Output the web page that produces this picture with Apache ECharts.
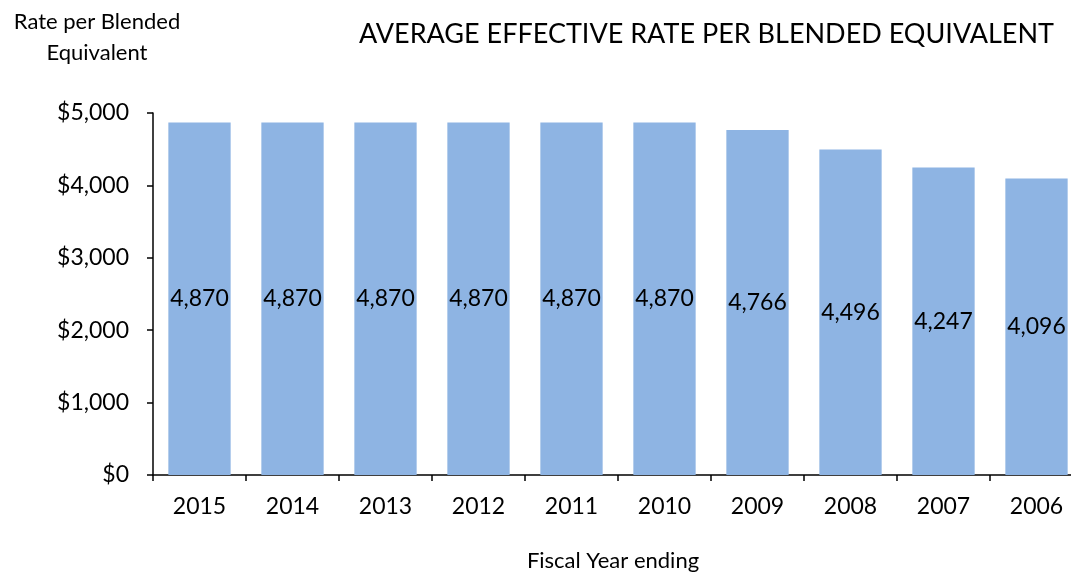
<!DOCTYPE html>
<html>
<head>
<meta charset="utf-8">
<script src="https://cdn.jsdelivr.net/npm/echarts@6/dist/echarts.min.js"></script>
<style>
  html, body { margin: 0; padding: 0; background: #fff; overflow: hidden; }
  /* the chart canvas runs a little past the right edge of the window */
  #chart { width: 1083px; height: 577px; }
</style>
</head>
<body>
<div id="chart"></div>
<script>
// Fiscal years (most recent first) and the average effective rate for each
const years = ['2015', '2014', '2013', '2012', '2011', '2010', '2009', '2008', '2007', '2006'];
const rates = [4870, 4870, 4870, 4870, 4870, 4870, 4766, 4496, 4247, 4096];
const yTicks = [0, 1000, 2000, 3000, 4000, 5000];

const FONT = 'Lato';
const fmt = v => v.toLocaleString('en-US');

const chart = echarts.init(document.getElementById('chart'), null, { renderer: 'canvas' });
chart.setOption({
  animation: false,
  backgroundColor: '#ffffff',
  textStyle: { fontFamily: FONT, color: '#000' },
  title: {
    text: 'AVERAGE EFFECTIVE RATE PER BLENDED EQUIVALENT',
    right: 24,
    top: 16,
    textStyle: { fontFamily: FONT, fontSize: 27, fontWeight: 'normal', color: '#000' }
  },
  graphic: [
    {
      type: 'text',
      x: 97,
      y: 6,
      style: {
        text: 'Rate per Blended\nEquivalent',
        font: '22px ' + FONT,
        fill: '#000',
        lineHeight: 31,
        align: 'center'
      }
    },
    {
      type: 'text',
      x: 613,
      y: 550,
      style: { text: 'Fiscal Year ending', font: '22px ' + FONT, fill: '#000', align: 'center' }
    }
  ],
  grid: { left: 153, right: 0, top: 113, bottom: 102, containLabel: false },
  xAxis: {
    type: 'category',
    data: years,
    axisLine: { lineStyle: { color: '#000', width: 1.5 } },
    axisTick: { show: true, alignWithLabel: false, length: 6, lineStyle: { color: '#000', width: 1.5 } },
    axisLabel: { color: '#000', fontSize: 23, fontFamily: FONT, margin: 20 }
  },
  yAxis: {
    type: 'value',
    min: yTicks[0],
    max: yTicks[yTicks.length - 1],
    interval: 1000,
    axisLine: { show: true, lineStyle: { color: '#000', width: 1.5 } },
    axisTick: { show: true, length: 6, lineStyle: { color: '#000', width: 1.5 } },
    splitLine: { show: false },
    axisLabel: {
      color: '#000', fontSize: 23, fontFamily: FONT, margin: 24,
      formatter: v => '$' + fmt(v)
    }
  },
  series: [{
    type: 'bar',
    data: rates,
    barCategoryGap: '33%',
    itemStyle: { color: '#8EB4E3' },
    label: {
      show: true,
      position: 'inside',
      color: '#000',
      fontSize: 23,
      fontFamily: FONT,
      formatter: p => fmt(p.value)
    }
  }]
});
</script>
</body>
</html>
